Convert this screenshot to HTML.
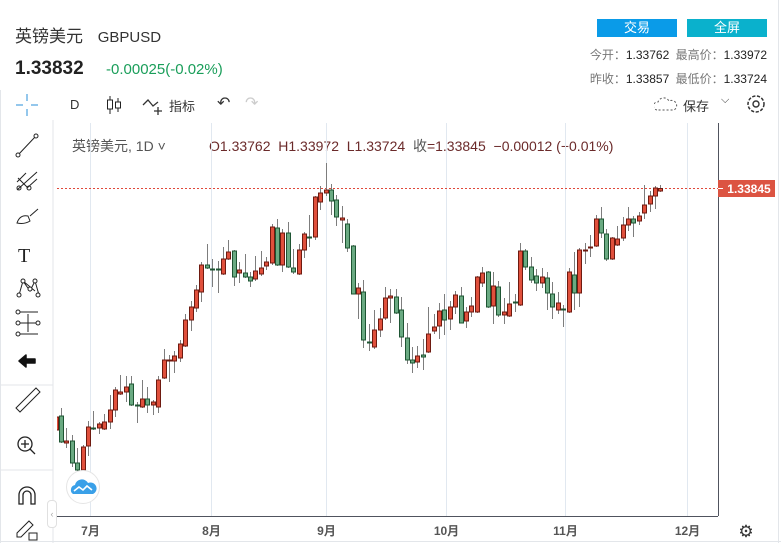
<!DOCTYPE html>
<html><head><meta charset="utf-8"><style>
html,body{margin:0;padding:0;background:#fff;}
body{width:781px;height:543px;overflow:hidden;position:relative;font-family:"Liberation Sans","Noto Sans CJK SC",sans-serif;}
.abs{position:absolute;white-space:nowrap;}
</style></head><body>
<div class="abs" style="left:15px;top:22px;font-size:17px;color:#333;">英镑美元 <span style="margin-left:10px;font-size:15px;">GBPUSD</span></div>
<div class="abs" style="left:15px;top:58px;font-size:19px;font-weight:bold;color:#222;">1.33832</div>
<div class="abs" style="left:106px;top:61px;font-size:15px;color:#1a9e5a;">-0.00025(-0.02%)</div>
<div class="abs" style="left:597px;top:19px;width:80px;height:18px;background:#0a9be8;color:#fff;font-size:13px;text-align:center;line-height:18px;">交易</div>
<div class="abs" style="left:687px;top:19px;width:80px;height:18px;background:#0ab1cc;color:#fff;font-size:13px;text-align:center;line-height:18px;">全屏</div>
<div class="abs" style="right:14px;top:46px;font-size:12px;color:#222;"><span style="color:#777">今开：</span>1.33762 <span style="color:#777;margin-left:3px">最高价：</span>1.33972</div>
<div class="abs" style="right:14px;top:70px;font-size:12px;color:#222;"><span style="color:#777">昨收：</span>1.33857 <span style="color:#777;margin-left:3px">最低价：</span>1.33724</div>

<div class="abs" style="left:70px;top:97px;font-size:13px;color:#333;">D</div>
<svg class="abs" style="left:106px;top:95px" width="16" height="20"><path d="M4 1v18M12 3v14" stroke="#222"/><rect x="1.5" y="5" width="5" height="9" fill="#fff" stroke="#222"/><rect x="9.5" y="7" width="5" height="6" fill="#fff" stroke="#222"/></svg>
<svg class="abs" style="left:142px;top:96px" width="24" height="20"><path d="M1 9l5-5 5 6 5-4" fill="none" stroke="#333" stroke-width="1.3"/><path d="M16 11v8M12 15h8" stroke="#333" stroke-width="1.3"/></svg>
<div class="abs" style="left:169px;top:96px;font-size:13px;color:#333;">指标</div>
<div class="abs" style="left:217px;top:93px;font-size:16px;color:#333;">↶</div>
<div class="abs" style="left:245px;top:93px;font-size:16px;color:#ccc;">↷</div>
<svg class="abs" style="left:654px;top:96px" width="24" height="16"><path d="M3 14a4 4 0 0 1 1-8 6 6 0 0 1 11-1 4.5 4.5 0 0 1 5 9z" fill="none" stroke="#555" stroke-dasharray="2 2"/></svg>
<div class="abs" style="left:683px;top:96px;font-size:13px;color:#333;">保存</div>
<div class="abs" style="left:721px;top:94px;font-size:11px;color:#333;">⌵</div>
<svg class="abs" style="left:745px;top:93px" width="22" height="22"><circle cx="11" cy="11" r="3" fill="none" stroke="#333" stroke-width="1.4"/><circle cx="11" cy="11" r="8" fill="none" stroke="#333" stroke-width="1.5" stroke-dasharray="3.2 1.6"/></svg>

<div class="abs" style="left:72px;top:136px;font-size:14px;color:#555;">英镑美元, 1D ˅</div>
<div class="abs" style="left:209px;top:136px;font-size:14px;color:#6b2a2a;">O1.33762&nbsp; H1.33972&nbsp; L1.33724&nbsp; <span style="color:#555">收</span>=1.33845&nbsp; −0.00012 (−0.01%)</div>

<!-- left toolbar -->
<svg class="abs" style="left:0;top:90px" width="56" height="453">
<line x1="0.5" y1="0" x2="0.5" y2="453" stroke="#e3e6ea"/>
<line x1="53" y1="30" x2="53" y2="453" stroke="#e3e6ea"/>
<line x1="0" y1="295" x2="53" y2="295" stroke="#e3e6ea"/>
<line x1="0" y1="380" x2="53" y2="380" stroke="#e3e6ea"/>
<g stroke="#2a8fd8"><path d="M16 15h7M31 15h7M27 4v7M27 19v7"/></g>
<g fill="#fff" stroke="#222"><line x1="18" y1="65" x2="35" y2="47"/><circle cx="18" cy="65" r="2"/><circle cx="36" cy="46" r="2"/></g>
<g fill="none" stroke="#222"><path d="M17 100l20-18M17 92l9-9M27 98l10-9M18 88l10 10"/><circle cx="19" cy="98" r="2"/><circle cx="29" cy="98" r="2"/></g>
<g fill="none" stroke="#222"><path d="M17 133c2-6 6-8 11-7l2 5c-3 2-8 3-13 2zM30 126l8-7"/></g>
<text x="18" y="172" font-size="20" font-family="Liberation Serif, serif" fill="#222">T</text>
<g fill="#fff" stroke="#222"><path d="M19 205l4-14 7 10 5-10 4 14M23 191l12 10"/><circle cx="19" cy="205" r="2"/><circle cx="23" cy="191" r="2"/><circle cx="30" cy="199" r="2"/><circle cx="35" cy="191" r="2"/><circle cx="38" cy="205" r="2"/></g>
<g fill="#fff" stroke="#222"><path d="M20 222h18M20 233h18M20 244h18M28 224v18"/><circle cx="18" cy="222" r="2"/><circle cx="18" cy="233" r="2"/><circle cx="38" cy="233" r="2"/><circle cx="18" cy="244" r="2"/></g>
<path d="M19 271l7-6v4h9v4h-9v4z" fill="#111" stroke="#111" stroke-width="1.5" stroke-linejoin="round"/>
<g fill="none" stroke="#222"><path d="M16 318l20-20 4 4-20 20z"/></g>
<g fill="none" stroke="#222" stroke-width="1.3"><circle cx="25" cy="354" r="7"/><path d="M30 359l5 5M25 350v8M21 354h8"/></g>
<g fill="none" stroke="#222" stroke-width="1.3"><path d="M19 414v-9a8 8 0 0 1 16 0v9h-4v-9a4 4 0 0 0-8 0v9z"/></g>
<g fill="none" stroke="#222"><path d="M17 443l12-12 4 4-12 12h-4z"/><rect x="29" y="443" width="8" height="7"/></g>
</svg>
<div class="abs" style="left:47px;top:500px;width:8px;height:26px;border:1px solid #e0e0e0;border-radius:4px;background:#fff;font-size:9px;color:#aaa;line-height:26px;text-align:center;">‹</div>

<svg class="abs" id="chart" style="left:0;top:0" width="781" height="543"></svg>
<div class="abs" style="left:66px;top:470px;width:32px;height:32px;border-radius:50%;border:1px solid #e5e5e5;background:#fff;">
<svg width="32" height="32"><path d="M6 23a5 5 0 0 1 2-9 7 7 0 0 1 13-2 5 5 0 0 1 5 11z" fill="#3aa0e8"/><path d="M7 20l5-4 4 3 4-4 5 4" fill="none" stroke="#fff" stroke-width="1.6"/></svg></div>

<script>
const opens=[1.3143,1.3157,1.3130,1.3132,1.3110,1.3103,1.3127,1.3145,1.3145,1.3144,1.3151,1.3163,1.3179,1.3181,1.3189,1.3168,1.3166,1.3174,1.3168,1.3166,1.3195,1.3212,1.3212,1.3215,1.3227,1.3253,1.3265,1.3281,1.3308,1.3304,1.3304,1.3299,1.3314,1.3322,1.3300,1.3300,1.3296,1.3294,1.3299,1.3307,1.3310,1.3345,1.3308,1.3340,1.3305,1.3299,1.3323,1.3336,1.3336,1.3371,1.3380,1.3383,1.3373,1.3353,1.3349,1.3327,1.3279,1.3281,1.3231,1.3226,1.3243,1.3255,1.3275,1.3276,1.3263,1.3235,1.3213,1.3211,1.3218,1.3221,1.3242,1.3247,1.3263,1.3254,1.3266,1.3277,1.3252,1.3261,1.3261,1.3290,1.3301,1.3267,1.3286,1.3258,1.3257,1.3271,1.3268,1.3322,1.3306,1.3297,1.3290,1.3295,1.3279,1.3263,1.3264,1.3261,1.3298,1.3280,1.3322,1.3325,1.3327,1.3354,1.3339,1.3314,1.3328,1.3335,1.3348,1.3354,1.3352,1.3360,1.3369,1.3377,1.3382];
const highs=[1.3163,1.3165,1.3145,1.3138,1.3125,1.3128,1.3152,1.3162,1.3151,1.3159,1.3178,1.3186,1.3198,1.3197,1.3197,1.3171,1.3193,1.3186,1.3173,1.3197,1.3224,1.3218,1.3222,1.3233,1.3259,1.3272,1.3288,1.3311,1.3329,1.3314,1.3312,1.3326,1.3333,1.3323,1.3311,1.3319,1.3301,1.3317,1.3322,1.3316,1.3349,1.3354,1.3344,1.3351,1.3324,1.3329,1.3341,1.3358,1.3377,1.3387,1.3410,1.3389,1.3378,1.3367,1.3354,1.3328,1.3290,1.3293,1.3249,1.3263,1.3265,1.3286,1.3284,1.3284,1.3276,1.3250,1.3226,1.3227,1.3234,1.3266,1.3259,1.3270,1.3279,1.3272,1.3282,1.3286,1.3266,1.3276,1.3297,1.3306,1.3302,1.3301,1.3292,1.3275,1.3291,1.3279,1.3330,1.3324,1.3316,1.3304,1.3305,1.3301,1.3291,1.3281,1.3268,1.3305,1.3321,1.3325,1.3330,1.3338,1.3358,1.3366,1.3344,1.3336,1.3347,1.3356,1.3366,1.3357,1.3361,1.3388,1.3382,1.3387,1.3388];
const lows=[1.3138,1.3130,1.3125,1.3106,1.3098,1.3100,1.3117,1.3143,1.3139,1.3143,1.3144,1.3156,1.3178,1.3171,1.3167,1.3150,1.3165,1.3160,1.3158,1.3160,1.3194,1.3191,1.3200,1.3211,1.3226,1.3242,1.3261,1.3271,1.3304,1.3286,1.3280,1.3298,1.3313,1.3287,1.3290,1.3295,1.3286,1.3292,1.3297,1.3303,1.3308,1.3307,1.3301,1.3305,1.3299,1.3298,1.3315,1.3326,1.3333,1.3363,1.3377,1.3358,1.3347,1.3330,1.3321,1.3279,1.3254,1.3225,1.3222,1.3224,1.3236,1.3253,1.3250,1.3259,1.3226,1.3209,1.3200,1.3205,1.3203,1.3220,1.3239,1.3234,1.3238,1.3243,1.3259,1.3250,1.3245,1.3256,1.3260,1.3286,1.3265,1.3249,1.3256,1.3249,1.3256,1.3261,1.3267,1.3303,1.3290,1.3282,1.3285,1.3263,1.3254,1.3259,1.3246,1.3260,1.3263,1.3266,1.3309,1.3316,1.3326,1.3335,1.3312,1.3313,1.3327,1.3332,1.3342,1.3336,1.3348,1.3354,1.3361,1.3364,1.3381];
const closes=[1.3156,1.3131,1.3132,1.3110,1.3103,1.3126,1.3146,1.3144,1.3149,1.3151,1.3163,1.3183,1.3181,1.3186,1.3168,1.3167,1.3174,1.3168,1.3171,1.3193,1.3213,1.3213,1.3217,1.3229,1.3253,1.3266,1.3283,1.3308,1.3305,1.3303,1.3303,1.3314,1.3321,1.3296,1.3303,1.3296,1.3292,1.3302,1.3305,1.3311,1.3346,1.3308,1.3340,1.3306,1.3301,1.3323,1.3339,1.3335,1.3376,1.3380,1.3383,1.3372,1.3356,1.3355,1.3325,1.3279,1.3285,1.3233,1.3230,1.3243,1.3254,1.3275,1.3277,1.3260,1.3236,1.3213,1.3210,1.3217,1.3216,1.3239,1.3246,1.3262,1.3253,1.3266,1.3278,1.3250,1.3261,1.3267,1.3296,1.3300,1.3266,1.3287,1.3258,1.3261,1.3269,1.3270,1.3322,1.3306,1.3293,1.3290,1.3296,1.3280,1.3266,1.3270,1.3263,1.3301,1.3280,1.3323,1.3323,1.3326,1.3354,1.3340,1.3314,1.3335,1.3334,1.3348,1.3354,1.3350,1.3357,1.3368,1.3377,1.3385,1.33845];
const monthLabels=["7月","8月","9月","10月","11月","12月"];
const monthPos=[6.3,28.7,50.1,72.3,94.3,117.0];
const lastPrice=1.33845;

const svg=document.getElementById('chart');
const NS='http://www.w3.org/2000/svg';
const L=57,R=718,T=123,B=516;
function xOf(i){return 55.6+i*5.4;}
function yOf(p){return (1.3573-p)*10000;}
function mk(tag,attrs,parent){const e=document.createElementNS(NS,tag);for(const k in attrs)e.setAttribute(k,attrs[k]);(parent||svg).appendChild(e);return e;}
const defs=mk('defs',{});const cp=mk('clipPath',{id:'plotclip'},defs);mk('rect',{x:L,y:T,width:R-L,height:B-T},cp);
monthPos.forEach((m,k)=>{
  const x=Math.round(xOf(m))+0.5;
  const g=mk('line',{x1:x,y1:T,x2:x,y2:B,stroke:'#e1e8f0'});
  
  
  const t=mk('text',{x:x,y:535,'text-anchor':'middle','font-size':12,'font-weight':'bold',fill:'#555'});
  t.textContent=monthLabels[k];
  
  
});
mk('line',{x1:L,y1:B+0.5,x2:R,y2:B+0.5,stroke:'#50535e'});
mk('line',{x1:R+0.5,y1:T,x2:R+0.5,y2:B,stroke:'#50535e'});
mk('line',{x1:0,y1:541.5,x2:781,y2:541.5,stroke:'#e3e6ea'});
mk('line',{x1:778.5,y1:0,x2:778.5,y2:543,stroke:'#e3e6ea'});
const gear=mk('text',{x:746,y:537,'font-size':17,fill:'#333','text-anchor':'middle'});gear.textContent='⚙';


const ly=yOf(lastPrice);
const pl=mk('line',{x1:L,y1:ly,x2:R,y2:ly,stroke:'#e0483a','stroke-dasharray':'2 2'});


const lb=mk('rect',{x:R,y:ly-8.5,width:57,height:17,fill:'#dc5442'});


mk('line',{x1:R,y1:ly,x2:R+5,y2:ly,stroke:'#fff'});
const lt=mk('text',{x:R+31,y:ly+4.5,'text-anchor':'middle','font-size':12,'font-weight':'bold',fill:'#fff'});lt.textContent=lastPrice.toFixed(5);
const cg=mk('g',{'clip-path':'url(#plotclip)'});


for(let i=0;i<opens.length;i++){
  const x=Math.round(xOf(i))+0.5;
  const up=closes[i]>=opens[i];
  const w=mk('line',{x1:x,y1:yOf(highs[i]),x2:x,y2:yOf(lows[i]),stroke:'#7d7d7d'},cg);
  
  
  const top=yOf(Math.max(opens[i],closes[i])),bot=yOf(Math.min(opens[i],closes[i]));
  const b=mk('rect',{x:x-2,y:top,width:4,height:Math.max(bot-top,1),fill:up?'#e0503c':'#6aaa82',stroke:up?'#6e1a10':'#1e5533','stroke-width':1},cg);
  
  
}
</script>
</body></html>
